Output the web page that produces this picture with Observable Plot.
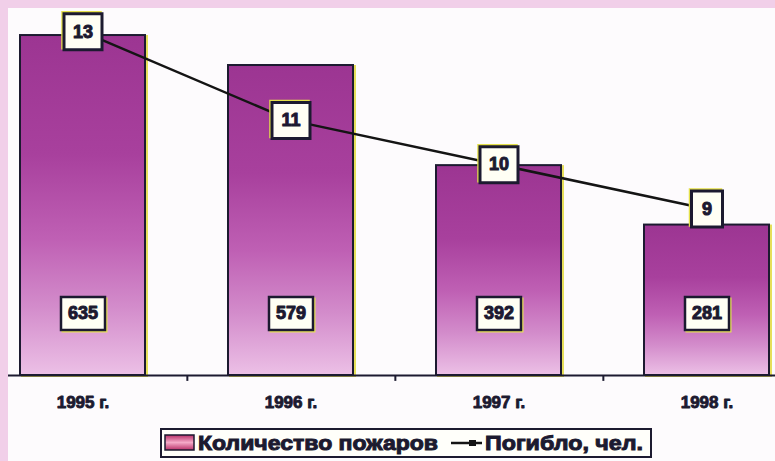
<!DOCTYPE html>
<html>
<head>
<meta charset="utf-8">
<script src="https://cdn.jsdelivr.net/npm/d3@7"></script>
<script src="https://cdn.jsdelivr.net/npm/@observablehq/plot@0.6"></script>
<style>
  html, body { margin: 0; padding: 0; width: 775px; height: 461px; overflow: hidden; background: #f1cfe9; }
  #panel { position: absolute; left: 8px; top: 8px; width: 767px; height: 453px; background: #fdfbfd; }
  #chart svg { display: block; }
  #legend { position: absolute; left: 152px; top: 420px; width: 492px; height: 30px; }
  #legend svg { display: block; }
</style>
</head>
<body>
<div id="panel">
  <div id="chart"></div>
  <div id="legend"></div>
</div>
<script>
// ---- Data ----
const years  = ["1995 г.", "1996 г.", "1997 г.", "1998 г."];
const fires  = [635, 579, 392, 281];   // Количество пожаров
const deaths = [13, 11, 10, 9];        // Погибло, чел.
const seriesNames = ["Количество пожаров", "Погибло, чел."];

const data = years.map((year, i) => ({year, fires: fires[i], deaths: deaths[i]}));

// secondary (hidden) axis for deaths, expressed in primary-axis units
const deathScale = d3.scaleLinear().domain([9, 13]).range([311, 642]);

const W = 767, H = 415, baseY = 367;
const step = 208.7;
const ink = "#1c1a30";

function boxSym(w, h) {
  return {draw(ctx) {
    ctx.moveTo(-w / 2, -h / 2); ctx.lineTo(w / 2, -h / 2);
    ctx.lineTo(w / 2, h / 2); ctx.lineTo(-w / 2, h / 2); ctx.closePath();
  }};
}

const labelY = 116;

const chart = Plot.plot({
  width: W, height: H,
  marginTop: 0, marginBottom: H - baseY, marginLeft: 0, marginRight: 0,
  style: {background: "transparent", fontFamily: "'Liberation Sans', Arial, sans-serif", overflow: "visible"},
  x: {domain: years, range: [-31.3, 803.5], paddingInner: 0.4, paddingOuter: 0.2, axis: null},
  y: {domain: [0, 685.5], axis: null},
  marks: [
    // yellow misregistration fringe
    Plot.barY(data, {x: "year", y: "fires", fill: "none", stroke: "#e6df5a", strokeWidth: 2, dx: 2, dy: 1}),
    Plot.barY(data, {x: "year", y: "fires", fill: "url(#barGrad)", stroke: ink, strokeWidth: 2}),
    Plot.ruleY([0], {stroke: ink, strokeWidth: 2}),
    Plot.ruleX(years.slice(0, 3), {x: d => d, y1: 0, y2: -11, dx: step / 2, stroke: ink, strokeWidth: 2}),
    Plot.text(data, {x: "year", y: 0, dy: 27, text: "year", fontSize: 17, fontWeight: "bold",
      fill: ink, lineAnchor: "middle", stroke: ink, strokeWidth: 0.9}),
    // fires value labels
    Plot.dot(data, {x: "year", y: () => labelY, r: 10, symbol: boxSym(44, 33), fill: "none",
      stroke: "#e6e05a", strokeWidth: 2, dx: 1.5, dy: 1.5}),
    Plot.dot(data, {x: "year", y: () => labelY, r: 10, symbol: boxSym(44, 33), fill: "#fffff4", stroke: ink, strokeWidth: 2.5}),
    Plot.text(data, {x: "year", y: () => labelY, text: d => String(d.fires), fontSize: 18, fontWeight: "bold",
      fill: ink, lineAnchor: "middle", stroke: ink, strokeWidth: 1}),
    // deaths line
    Plot.line(data, {x: "year", y: d => deathScale(d.deaths), stroke: "#141414", strokeWidth: 2.5}),
    Plot.dot(data, {filter: d => d.deaths >= 10, x: "year", y: d => deathScale(d.deaths), r: 10,
      symbol: boxSym(38, 36), fill: "none", stroke: "#e4e04a", strokeWidth: 2.5, dx: -1.5, dy: -1.5}),
    Plot.dot(data, {filter: d => d.deaths < 10, x: "year", y: d => deathScale(d.deaths), r: 10,
      symbol: boxSym(31, 36), fill: "none", stroke: "#e4e04a", strokeWidth: 2.5, dx: -1.5, dy: -1.5}),
    Plot.dot(data, {filter: d => d.deaths >= 10, x: "year", y: d => deathScale(d.deaths), r: 10,
      symbol: boxSym(38, 36), fill: "#fffff4", stroke: ink, strokeWidth: 3}),
    Plot.dot(data, {filter: d => d.deaths < 10, x: "year", y: d => deathScale(d.deaths), r: 10,
      symbol: boxSym(31, 36), fill: "#fffff4", stroke: ink, strokeWidth: 3}),
    Plot.text(data, {x: "year", y: d => deathScale(d.deaths), text: d => String(d.deaths), fontSize: 18,
      fontWeight: "bold", fill: ink, lineAnchor: "middle", stroke: ink, strokeWidth: 1})
  ]
});

const defs = d3.select(chart).insert("defs", ":first-child");
const g = defs.append("linearGradient").attr("id", "barGrad")
  .attr("x1", 0).attr("y1", 0).attr("x2", 0).attr("y2", 1);
[[0, "#9c3592"], [0.35, "#a8409d"], [0.6, "#bf60b4"], [0.8, "#d38ccb"], [1, "#ecc0e6"]]
  .forEach(([o, c]) => g.append("stop").attr("offset", o).attr("stop-color", c));
document.getElementById("chart").append(chart);

// ---- Legend ----
const lg = d3.select("#legend").append("svg").attr("width", 492).attr("height", 30)
  .style("font-family", "'Liberation Sans', Arial, sans-serif");
const lgd = lg.append("defs").append("linearGradient").attr("id", "lgGrad")
  .attr("x1", 0).attr("y1", 0).attr("x2", 0).attr("y2", 1);
[[0, "#b83068"], [0.5, "#f4aac8"], [1, "#b83068"]]
  .forEach(([o, c]) => lgd.append("stop").attr("offset", o).attr("stop-color", c));
lg.append("rect").attr("x", 1).attr("y", 1).attr("width", 490).attr("height", 28)
  .attr("fill", "#fffffa").attr("stroke", ink).attr("stroke-width", 2);
lg.append("rect").attr("x", 5).attr("y", 7).attr("width", 29).attr("height", 15)
  .attr("fill", "url(#lgGrad)").attr("stroke", ink).attr("stroke-width", 1.5);
lg.append("text").attr("x", 38).attr("y", 15).attr("dy", "0.35em")
  .attr("font-size", 21).attr("font-weight", "bold").attr("fill", ink)
  .attr("stroke", ink).attr("stroke-width", 1)
  .attr("textLength", 240).attr("lengthAdjust", "spacingAndGlyphs").text(seriesNames[0]);
lg.append("line").attr("x1", 291).attr("x2", 322).attr("y1", 15).attr("y2", 15)
  .attr("stroke", "#141414").attr("stroke-width", 2.5);
lg.append("rect").attr("x", 309).attr("y", 12).attr("width", 7).attr("height", 6).attr("fill", "#141414");
lg.append("text").attr("x", 325).attr("y", 15).attr("dy", "0.35em")
  .attr("font-size", 21).attr("font-weight", "bold").attr("fill", ink)
  .attr("stroke", ink).attr("stroke-width", 1)
  .attr("textLength", 158).attr("lengthAdjust", "spacingAndGlyphs").text(seriesNames[1]);
</script>
</body>
</html>
